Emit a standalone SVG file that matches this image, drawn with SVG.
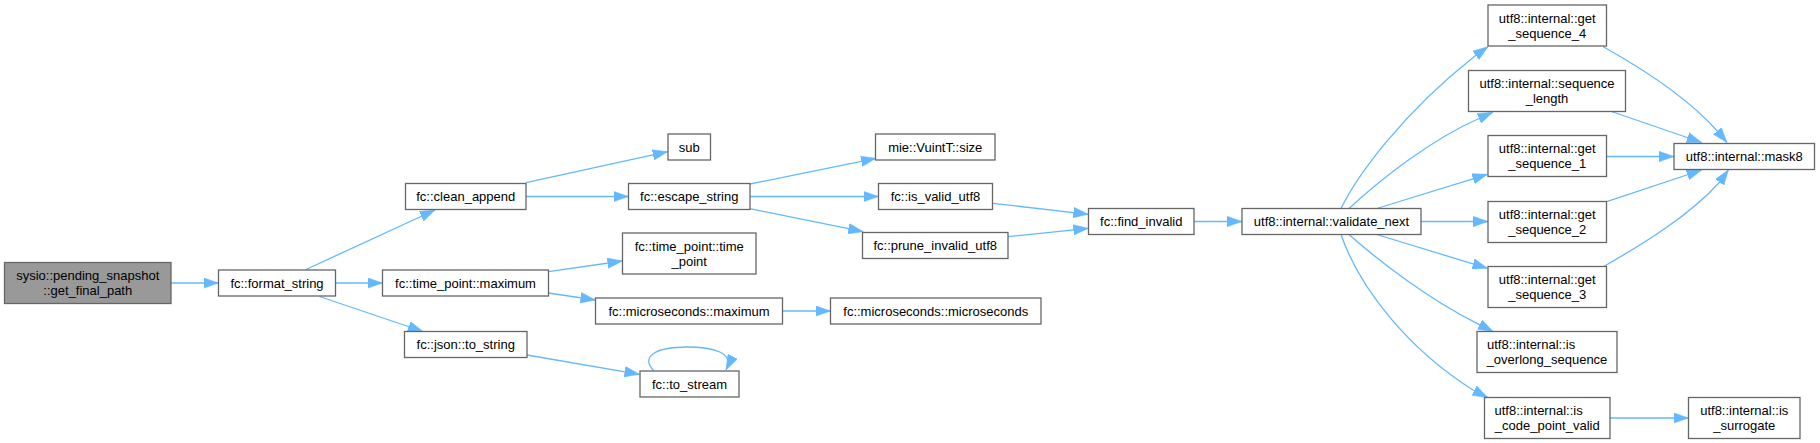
<svg xmlns="http://www.w3.org/2000/svg" width="1820" height="443" viewBox="0 0 1820 443">
<defs>
<style>
.n rect{fill:#ffffff;stroke:#666666;stroke-width:1.3}
.m rect{fill:#999999;stroke:#666666;stroke-width:1.3}
text{font-family:"Liberation Sans",Arial,Helvetica,sans-serif;font-size:13px;fill:#000000;text-anchor:middle}
text.s{text-anchor:start}
.e path{fill:none;stroke:#63b8ff;stroke-width:1.3;marker-end:url(#ah)}
</style>
<marker id="ah" markerUnits="userSpaceOnUse" markerWidth="15" markerHeight="11" refX="15" refY="5.25" orient="auto" viewBox="0 0 15 10.5">
<path d="M0,0 L15,5.25 L0,10.5 z" fill="#63b8ff" stroke="#63b8ff" stroke-width="0.5"/>
</marker>
</defs>
<rect width="1820" height="443" fill="#ffffff"/>
<g class="e" id="edges">
<path d="M171,283 L218.5,283"/>
<path d="M306,269.5 L435,210"/>
<path d="M335.5,283 L382.5,283"/>
<path d="M319.5,296.5 L423,331.5"/>
<path d="M526,182.7 L667.7,151.7"/>
<path d="M526,196.5 L628.5,196.5"/>
<path d="M750,184 L876,158.3"/>
<path d="M750,196.5 L878.5,196.5"/>
<path d="M750,208.7 L863.3,231.7"/>
<path d="M548.4,271.7 L622.5,261"/>
<path d="M548.4,293 L595.5,300"/>
<path d="M782.5,311 L830.5,311"/>
<path d="M527,355 L639.5,374.3"/>
<path d="M654,371 C640,357 655,347 687,347 C712,347 735,352 726,370"/>
<path d="M992.7,203.3 L1088.3,214.3"/>
<path d="M1008,236.7 L1088.3,228.3"/>
<path d="M1194,221.5 L1242,221.5"/>
<path d="M1341,208.5 C1356,178 1400,115 1475,56 L1488,46.7"/>
<path d="M1349,208.5 C1380,180 1430,140 1480,118 L1492.7,112.3"/>
<path d="M1376.7,208.5 L1487.5,174.3"/>
<path d="M1421,221.5 L1488,221.5"/>
<path d="M1376.7,234.5 L1487.5,268.3"/>
<path d="M1349,234.5 C1380,262 1430,300 1477,323.3 L1493,331.5"/>
<path d="M1341,234.5 C1360,290 1410,350 1473,390 L1487.7,397.5"/>
<path d="M1603.3,46.7 C1645,70 1690,100 1718,131.7 L1727,142.5"/>
<path d="M1610,111 L1701.7,142.5"/>
<path d="M1607,156.5 L1674,156.5"/>
<path d="M1606.7,201.7 L1701.7,170"/>
<path d="M1603.3,266.7 C1645,243 1690,215 1720,181.7 L1728.3,170"/>
<path d="M1610,418 L1688.5,418"/>
</g>
<g class="m" id="node_get_final_path"><rect x="4.5" y="262.5" width="166.5" height="41"/><text x="87.75" y="280">sysio::pending_snapshot</text><text x="87.75" y="295">::get_final_path</text></g>
<g class="n" id="node_format_string"><rect x="218.5" y="270" width="117" height="26"/><text x="277" y="287.5">fc::format_string</text></g>
<g class="n" id="node_clean_append"><rect x="405.5" y="183.5" width="120.5" height="26"/><text x="465.75" y="201">fc::clean_append</text></g>
<g class="n" id="node_tp_maximum"><rect x="382.5" y="270" width="166" height="26"/><text x="465.5" y="287.5">fc::time_point::maximum</text></g>
<g class="n" id="node_json_to_string"><rect x="404.5" y="331.5" width="122.5" height="26"/><text x="465.75" y="349">fc::json::to_string</text></g>
<g class="n" id="node_sub"><rect x="668" y="134" width="42.5" height="26"/><text x="689.25" y="151.5">sub</text></g>
<g class="n" id="node_escape_string"><rect x="628.5" y="183.5" width="121.5" height="26"/><text x="689.25" y="201">fc::escape_string</text></g>
<g class="n" id="node_tp_time_point"><rect x="622.5" y="233" width="133.5" height="41"/><text x="689.25" y="250.5">fc::time_point::time</text><text x="689.25" y="265.5">_point</text></g>
<g class="n" id="node_us_maximum"><rect x="595.5" y="298" width="187" height="26"/><text x="689" y="315.5">fc::microseconds::maximum</text></g>
<g class="n" id="node_to_stream"><rect x="640" y="371" width="99" height="26"/><text x="689.5" y="388.5">fc::to_stream</text></g>
<g class="n" id="node_vuint_size"><rect x="875.5" y="134" width="119.5" height="26"/><text x="935.25" y="151.5">mie::VuintT::size</text></g>
<g class="n" id="node_is_valid_utf8"><rect x="878.5" y="183.5" width="114" height="26"/><text x="935.5" y="201">fc::is_valid_utf8</text></g>
<g class="n" id="node_prune_invalid_utf8"><rect x="862.5" y="232.5" width="145.5" height="26"/><text x="935.25" y="250">fc::prune_invalid_utf8</text></g>
<g class="n" id="node_us_us"><rect x="830.5" y="298" width="210.5" height="26"/><text x="935.75" y="315.5">fc::microseconds::microseconds</text></g>
<g class="n" id="node_find_invalid"><rect x="1088.5" y="208.5" width="105.5" height="26"/><text x="1141.25" y="226">fc::find_invalid</text></g>
<g class="n" id="node_validate_next"><rect x="1242" y="208.5" width="179" height="26"/><text x="1331.5" y="226">utf8::internal::validate_next</text></g>
<g class="n" id="node_get_sequence_4"><rect x="1488" y="5" width="118.5" height="41"/><text x="1547.25" y="22.5">utf8::internal::get</text><text x="1547.25" y="37.5">_sequence_4</text></g>
<g class="n" id="node_sequence_length"><rect x="1468.5" y="70.5" width="157" height="41"/><text x="1547" y="88">utf8::internal::sequence</text><text x="1547" y="103">_length</text></g>
<g class="n" id="node_get_sequence_1"><rect x="1488" y="135.5" width="118.5" height="41"/><text x="1547.25" y="153">utf8::internal::get</text><text x="1547.25" y="168">_sequence_1</text></g>
<g class="n" id="node_get_sequence_2"><rect x="1488" y="201.5" width="118.5" height="41"/><text x="1547.25" y="219">utf8::internal::get</text><text x="1547.25" y="234">_sequence_2</text></g>
<g class="n" id="node_get_sequence_3"><rect x="1488" y="266.5" width="118.5" height="41"/><text x="1547.25" y="284">utf8::internal::get</text><text x="1547.25" y="299">_sequence_3</text></g>
<g class="n" id="node_is_overlong"><rect x="1477" y="331.5" width="140" height="41"/><text class="s" x="1487" y="349">utf8::internal::is</text><text x="1547" y="364">_overlong_sequence</text></g>
<g class="n" id="node_is_code_point_valid"><rect x="1484.5" y="397.5" width="125.5" height="41"/><text class="s" x="1494.5" y="415">utf8::internal::is</text><text x="1547.25" y="430">_code_point_valid</text></g>
<g class="n" id="node_is_surrogate"><rect x="1688.5" y="397.5" width="111.5" height="41"/><text x="1744.25" y="415">utf8::internal::is</text><text x="1744.25" y="430">_surrogate</text></g>
<g class="n" id="node_mask8"><rect x="1674" y="143.5" width="140.5" height="26"/><text x="1744.25" y="161">utf8::internal::mask8</text></g>
</svg>
